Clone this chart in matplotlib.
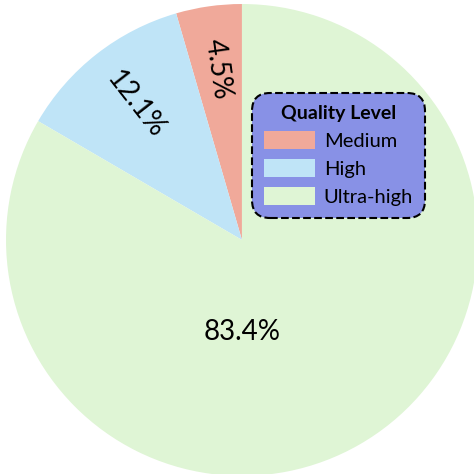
import matplotlib.pyplot as plt

levels = ["Medium", "High", "Ultra-high"]
shares = [4.5, 12.1, 83.4]
colors = ["#f0a99a", "#bfe4f7", "#dff5d5"]

plt.rcParams['font.family'] = ['Lato', 'DejaVu Sans']

fig = plt.figure(figsize=(4.74, 4.74), dpi=100)
ax = fig.add_axes([0, 0, 1, 1])

wedges, texts, autotexts = ax.pie(shares, colors=colors, startangle=90, counterclock=True,
                                  autopct="%.1f%%", pctdistance=0.73, rotatelabels=False,
                                  textprops={"fontsize": 20})

# rotate the small slice labels along their wedge, keep the big one flat
for w, t in zip(wedges, autotexts):
    ang = (w.theta1 + w.theta2) / 2
    t.set_rotation(ang - 180)
    t.set_rotation_mode("anchor")
autotexts[2].set_rotation(0)
autotexts[2].set_position((0, -0.39))

ax.set_aspect("equal")
ax.set_xlim(-1.025, 0.983)
ax.set_ylim(-0.992, 1.017)
ax.axis("off")

leg = ax.legend(wedges, levels, title="Quality Level", loc="upper left",
                bbox_to_anchor=(0.532, 0.804), bbox_transform=fig.transFigure,
                fontsize=14.5, title_fontproperties={"weight": "bold", "size": 14},
                fancybox=True, framealpha=1, facecolor="#8891e6", edgecolor="black",
                handlelength=2.5, handleheight=1.0, borderpad=0.6, labelspacing=0.45,
                handletextpad=0.45, borderaxespad=0)
frame = leg.get_frame()
frame.set_boxstyle("round", pad=0, rounding_size=0.9)
frame.set_linestyle("--")
frame.set_linewidth(1.5)

fig.savefig("out.png", dpi=100)
